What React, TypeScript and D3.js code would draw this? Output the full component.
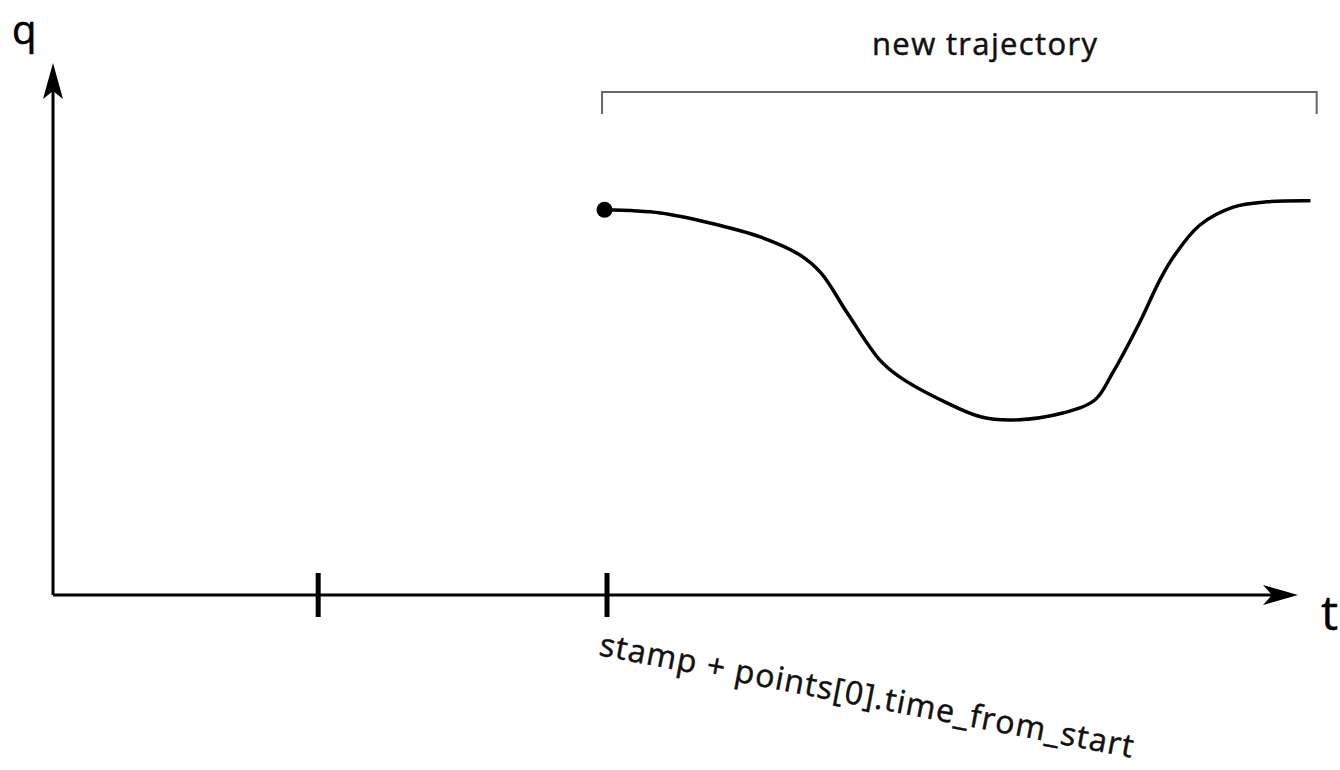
import React from "react";
import * as d3 from "d3";

const W = 1340;
const H = 770;

// trajectory samples (t, q)
const trajT = [4.43, 4.88, 5.28, 5.68, 6.0, 6.17, 6.38, 6.64, 6.8, 7.18, 7.45, 7.71, 8.11, 8.37, 8.51, 8.73, 8.89, 9.01, 9.21, 9.48, 9.75, 10.1];
const trajQ = [7.24, 7.18, 6.99, 6.73, 6.39, 6.05, 5.3, 4.42, 4.1, 3.61, 3.35, 3.29, 3.42, 3.67, 4.17, 5.13, 5.92, 6.39, 6.95, 7.29, 7.39, 7.41];
const tickTimes = [2.13, 4.45];
const bracketRange = [4.41, 10.15];
const labels = { y: "q", x: "t", bracket: "new trajectory", tick: "stamp + points[0].time_from_start" };

export default function App() {
  const x = d3.scaleLinear().domain([0, 10]).range([53, 1298]);
  const y = d3.scaleLinear().domain([0, 10]).range([595, 63]);
  const pts: [number, number][] = trajT.map((t, i) => [x(t), y(trajQ[i])]);
  const line = d3.line().curve(d3.curveCatmullRom.alpha(0.5))(pts) || "";
  const x0 = x(0), y0 = y(0), xEnd = x(10), yTop = y(10);
  const bx0 = x(bracketRange[0]), bx1 = x(bracketRange[1]);
  const by = 92;
  const font = "'Open Sans', 'Noto Sans', sans-serif";
  const tickX = x(tickTimes[1]);
  return (
    <svg width={W} height={H} style={{ position: "fixed", left: 0, top: 0, background: "#fff" }}>
      <rect width={W} height={H} fill="#fff" />
      {/* axes */}
      <line x1={x0} y1={y0} x2={x0} y2={yTop + 20} stroke="#000" strokeWidth={3} />
      <line x1={x0} y1={y0} x2={xEnd - 20} y2={y0} stroke="#000" strokeWidth={3} />
      <path d={`M${x0},${yTop} L${x0 + 10},${yTop + 36} L${x0},${yTop + 28} L${x0 - 10},${yTop + 36} Z`} fill="#000" />
      <path d={`M${xEnd},${y0} L${xEnd - 35},${y0 + 10} L${xEnd - 26},${y0} L${xEnd - 35},${y0 - 10} Z`} fill="#000" />
      {tickTimes.map((t, i) => (
        <line key={i} x1={x(t)} x2={x(t)} y1={y0 - 22} y2={y0 + 22} stroke="#000" strokeWidth={5} />
      ))}
      <text x={12} y={44} fontFamily={font} fontSize={40} fill="#000" stroke="#000" strokeWidth={0.6}>{labels.y}</text>
      <text x={1321} y={630} fontFamily={font} fontSize={48} fill="#000" stroke="#000" strokeWidth={0.4}>{labels.x}</text>
      {/* bracket */}
      <path d={`M${bx0},${by + 22} L${bx0},${by} L${bx1},${by} L${bx1},${by + 22}`} fill="none" stroke="#666" strokeWidth={2} />
      <text x={872} y={55} fontFamily={font} fontSize={31} textLength={225} lengthAdjust="spacing" fill="#111" stroke="#111" strokeWidth={0.5}>{labels.bracket}</text>
      {/* trajectory */}
      <path d={line} fill="none" stroke="#000" strokeWidth={3.5} strokeLinejoin="round" />
      <circle cx={pts[0][0]} cy={pts[0][1]} r={8} fill="#000" />
      {/* tick label */}
      <text transform={`translate(${tickX - 9},${655}) rotate(10.9)`} fontFamily={font} fontSize={32} textLength={543} lengthAdjust="spacing" fill="#111" stroke="#111" strokeWidth={0.5}>{labels.tick}</text>
    </svg>
  );
}
